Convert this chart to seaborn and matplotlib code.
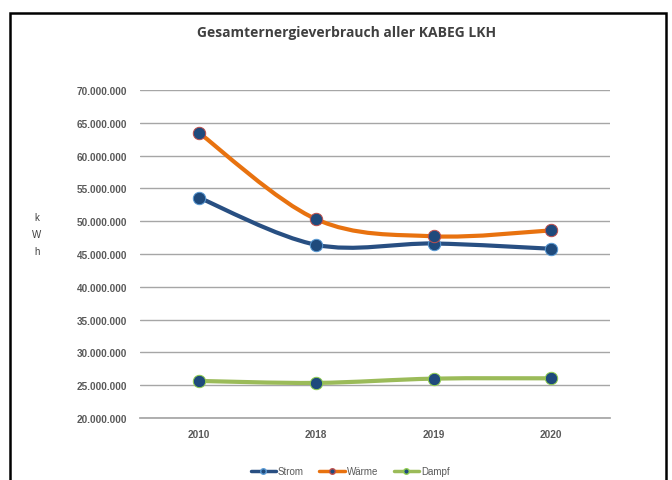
import numpy as np
import pandas as pd
import matplotlib
matplotlib.use('Agg')
import matplotlib.pyplot as plt
import seaborn as sns
from matplotlib.path import Path
from matplotlib.patches import PathPatch, Rectangle
from matplotlib.lines import Line2D
from matplotlib.ticker import FuncFormatter

# ------------------------------------------------------------
# data (kWh)
# ------------------------------------------------------------
years = ['2010', '2018', '2019', '2020']
strom = [53600000, 46400000, 46600000, 45800000]
waerme = [63500000, 50300000, 47700000, 48600000]
dampf = [25650000, 25350000, 26000000, 26050000]

series_names = ['Strom', 'Wärme', 'Dampf']
line_colors = ['#284F82', '#E8720F', '#9BBB59']
edge_colors = ['#5B9BD5', '#C0504D', '#92D050']
marker_fill = '#1F4A7C'

df = pd.DataFrame({'Jahr': years * 3,
                   'Serie': np.repeat(series_names, len(years)),
                   'kWh': strom + waerme + dampf})
df['pos'] = df['Jahr'].map({y: i for i, y in enumerate(years)})

sns.set_theme(style='white')
plt.rcParams['font.family'] = ['Liberation Sans', 'DejaVu Sans']

fig = plt.figure(figsize=(6.72, 4.81), dpi=100)
ax = fig.add_axes([0.2083, 0.1289, 0.6994, 0.6819])


def smooth_path(xs, ys):
    # excel-like smoothed line: catmull-rom as cubic bezier segments
    pts = np.column_stack([xs, ys]).astype(float)
    ext = np.vstack([pts[0], pts, pts[-1]])
    verts = [pts[0]]
    codes = [Path.MOVETO]
    for i in range(len(pts) - 1):
        p0, p1, p2, p3 = ext[i], ext[i + 1], ext[i + 2], ext[i + 3]
        verts += [p1 + (p2 - p0) / 6, p2 - (p3 - p1) / 6, p2]
        codes += [Path.CURVE4] * 3
    return Path(verts, codes)


for name, lc in zip(series_names, line_colors):
    sub = df[df['Serie'] == name]
    patch = PathPatch(smooth_path(sub['pos'], sub['kWh']), facecolor='none',
                      edgecolor=lc, lw=3.0, capstyle='round', zorder=3)
    ax.add_patch(patch)

for name, ec in zip(series_names, edge_colors):
    sub = df[df['Serie'] == name]
    sns.scatterplot(data=sub, x='pos', y='kWh', ax=ax, s=80, color=marker_fill,
                    edgecolor=ec, linewidth=0.7, zorder=4, legend=False)

ax.set_xlim(-0.5, 3.5)
ax.set_ylim(20000000, 70000000)
ax.set_yticks(np.arange(20000000, 70000001, 5000000))
ax.yaxis.set_major_formatter(FuncFormatter(lambda v, p: f'{v:,.0f}'.replace(',', '.')))
ax.set_xticks(range(len(years)))
ax.set_xticklabels(years)
ax.grid(axis='y', color='#A6A6A6', lw=1.0)
ax.grid(axis='x', visible=False)
for s in ['top', 'right', 'left']:
    ax.spines[s].set_visible(False)
ax.spines['bottom'].set_color('#A6A6A6')
ax.tick_params(axis='both', length=0, labelsize=7.2, labelcolor='#595959')
ax.tick_params(axis='y', pad=9)
ax.tick_params(axis='x', pad=8)
for lbl in ax.get_xticklabels() + ax.get_yticklabels():
    lbl.set_fontweight('bold')
ax.set_xlabel('')
ax.set_ylabel('')

# stacked unit label
fig.text(37 / 672, 1 - 235 / 481, 'k\nW\nh', ha='center', va='center',
         fontsize=7, color='#404040', linespacing=1.9)

fig.text(347 / 672, 1 - 33 / 481, 'Gesamternergieverbrauch aller KABEG LKH',
         ha='center', va='center', fontsize=10, fontweight='bold',
         color='#404040', family=['Open Sans', 'DejaVu Sans'])

handles = [Line2D([0], [0], color=lc, lw=2.5, marker='o', markersize=4,
                  markerfacecolor=marker_fill, markeredgecolor=ec)
           for lc, ec in zip(line_colors, edge_colors)]
fig.legend(handles, series_names, loc='center', bbox_to_anchor=(350 / 672, 1 - 472 / 481),
           ncol=3, frameon=False, fontsize=7, handlelength=2.6, handletextpad=0.2,
           columnspacing=1.6, labelcolor='#595959')

# outer frame
fig.patches.append(Rectangle((10 / 672, -0.05), 656 / 672, 1.05 - 14 / 481,
                             transform=fig.transFigure, fill=False,
                             edgecolor='black', lw=1.8))

fig.savefig('out.png', dpi=100)
plt.close(fig)
